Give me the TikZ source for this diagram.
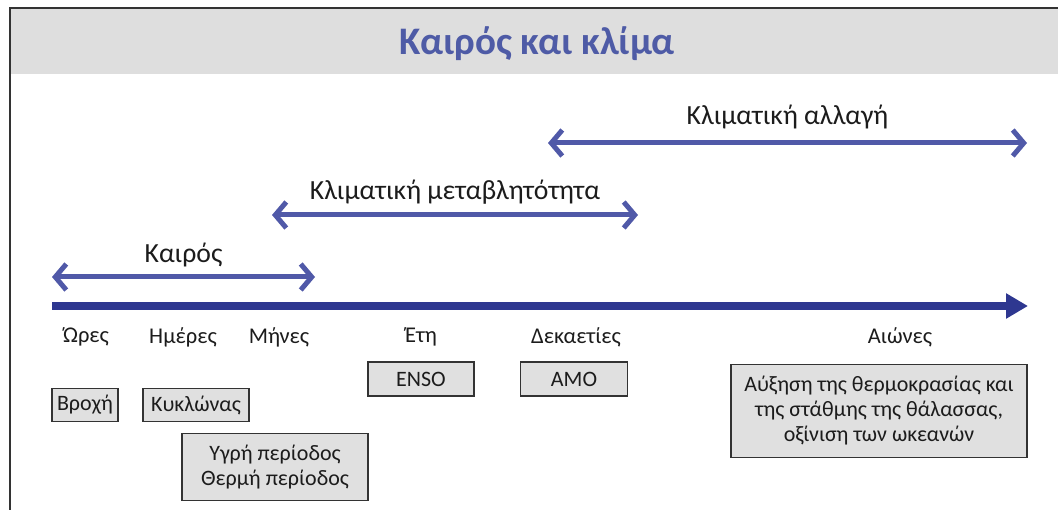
\documentclass[tikz,border=0pt]{standalone}
\usepackage{fontspec}
\setmainfont{Carlito}
\usetikzlibrary{arrows.meta}

\definecolor{titleblue}{HTML}{4E5BA6}
\definecolor{spanblue}{HTML}{5059A8}
\definecolor{axisblue}{HTML}{2E3790}
\definecolor{boxgray}{HTML}{E0E0E0}
\definecolor{bandgray}{HTML}{DEDEDE}
\definecolor{inkgray}{HTML}{1C1C1C}

\tikzset{
  eventbox/.style={draw=black!80, line width=1.8pt, fill=boxgray, text=inkgray,
    font=\fontsize{22}{25}\selectfont, align=center, inner sep=0pt},
  scalelabel/.style={text=inkgray, font=\fontsize{22.5}{26}\selectfont},
  span/.style={spanblue, line width=5pt,
    {Straight Barb[length=11pt,width=26pt]}-{Straight Barb[length=11pt,width=26pt]}},
  spanlabel/.style={text=inkgray, font=\fontsize{27.7}{32}\selectfont}
}

\begin{document}
\begin{tikzpicture}[x=1pt,y=-1pt]
\useasboundingbox (0,0) rectangle (1058,510);

% frame and title band
\fill [bandgray] (10,9) rectangle (1058,74);
\draw [black!80, line width=1.5pt] (1058,8) -- (10,8) -- (10,510);

\node (title) [font=\fontsize{39}{45}\selectfont\bfseries, text=titleblue] at (537,44) {Καιρός και κλίμα};

% time scale
\coordinate (axisstart) at (52,306);
\coordinate (axisend) at (1028,306);
\draw [axisblue, line width=8pt, -{Triangle[length=22pt,width=24pt]}] (axisstart) -- (axisend);

\node (hours) [scalelabel] at (86,337) {Ώρες};
\node (days) [scalelabel] at (183,337) {Ημέρες};
\node (months) [scalelabel] at (279,337) {Μήνες};
\node (years) [scalelabel] at (421,337) {Έτη};
\node (decades) [scalelabel] at (576,337) {Δεκαετίες};
\node (centuries) [scalelabel] at (900,337) {Αιώνες};

% spans
\coordinate (weatherstart) at (52,277);
\coordinate (weatherend) at (315,277);
\coordinate (variabstart) at (272,215);
\coordinate (variabend) at (638,215);
\coordinate (changestart) at (548,143);
\coordinate (changeend) at (1027,143);

\draw [span] (weatherstart) -- node[midway, above=4pt, spanlabel]{Καιρός} (weatherend);
\draw [span] (variabstart) -- node[midway, above=5pt, spanlabel]{Κλιματική μεταβλητότητα} (variabend);
\draw [span] (changestart) -- node[midway, above=8pt, spanlabel]{Κλιματική αλλαγή} (changeend);

% events
\node (rain) [eventbox, minimum width=66pt, minimum height=33pt] at (85,405) {Βροχή};
\node (cyclone) [eventbox, minimum width=106pt, minimum height=33pt] at (196,405) {Κυκλώνας};
\node (season) [eventbox, minimum width=186pt, minimum height=67pt] at (275,467) {Υγρή περίοδος\\Θερμή περίοδος};
\node (enso) [eventbox, minimum width=106pt, minimum height=34pt] at (421,379) {ENSO};
\node (amo) [eventbox, minimum width=107pt, minimum height=34pt] at (574,379) {AMO};
\node (warming) [eventbox, minimum width=296pt, minimum height=93pt] at (879,411) {Αύξηση της θερμοκρασίας και\\της στάθμης της θάλασσας,\\οξίνιση των ωκεανών};

\end{tikzpicture}
\end{document}
